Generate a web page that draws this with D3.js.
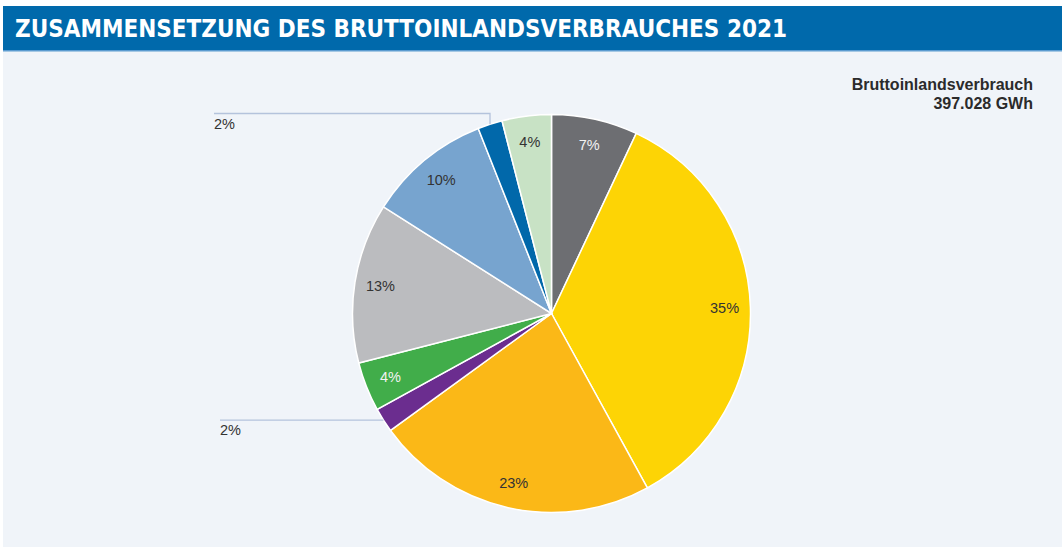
<!DOCTYPE html>
<html>
<head>
<meta charset="utf-8">
<script src="https://cdn.jsdelivr.net/npm/d3@7"></script>
<style>
	body { margin: 0; background: #ffffff; }
	svg { display: block; font-family: "Liberation Sans", Arial, sans-serif; }
</style>
</head>
<body>
<div id="chart"></div>
<script>
// anteile in prozent, im uhrzeigersinn ab 12 uhr
var shares = [7, 35, 23, 2, 4, 13, 10, 2, 4];
var sliceColors = ['#6d6e72', '#fdd405', '#fbb817', '#6b2d8f', '#41ad4a', '#bbbcbf', '#77a4cf', '#0168aa', '#c8e2c5'];
var labelColors = ['#f2f2f2', '#333333', '#333333', '#333333', '#f2f2f2', '#333333', '#333333', '#333333', '#333333'];
var titleText = 'ZUSAMMENSETZUNG DES BRUTTOINLANDSVERBRAUCHES 2021';
var totalLines = ['Bruttoinlandsverbrauch', '397.028 GWh'];

var width = 1064, height = 547;
var cx = 551.5, cy = 313.5, radius = 199;

var svg = d3.select('#chart').append('svg')
	.attr('width', width).attr('height', height);

// titelbalken + hintergrund
svg.append('rect').attr('x', 3).attr('y', 51).attr('width', 1059).attr('height', 496)
	.attr('fill', '#f0f4f9');
svg.append('rect').attr('x', 3).attr('y', 6).attr('width', 1059).attr('height', 45)
	.attr('fill', '#0069ab');
svg.append('rect').attr('x', 3).attr('y', 50).attr('width', 1059).attr('height', 1.5)
	.attr('fill', '#5b9bd0');
svg.append('text')
	.attr('x', 15).attr('y', 37)
	.attr('textLength', 772).attr('lengthAdjust', 'spacingAndGlyphs')
	.style('font-family', '"Liberation Sans Narrow", "DejaVu Sans Condensed", "Liberation Sans", sans-serif')
	.style('font-weight', 'bold').style('font-size', '24px')
	.attr('fill', '#ffffff')
	.text(titleText);

// summe oben rechts
svg.selectAll('.total').data(totalLines).enter().append('text')
	.attr('class', 'total')
	.attr('x', 1033)
	.attr('y', function(d, i) { return 90 + i * 19; })
	.attr('text-anchor', 'end')
	.style('font-size', '16px').style('font-weight', 'bold')
	.attr('fill', '#2b2b2b')
	.text(function(d) { return d; });

var pie = d3.pie().sort(null).value(function(d) { return d; });
var arcs = pie(shares);
var arc = d3.arc().innerRadius(0).outerRadius(radius);
var labelArc = d3.arc().innerRadius(radius * 0.87).outerRadius(radius * 0.87);
var edgeArc = d3.arc().innerRadius(radius).outerRadius(radius);

var g = svg.append('g').attr('transform', 'translate(' + cx + ',' + cy + ')');

g.selectAll('path.slice').data(arcs).enter().append('path')
	.attr('class', 'slice')
	.attr('d', arc)
	.attr('fill', function(d, i) { return sliceColors[i]; })
	.attr('stroke', '#ffffff').attr('stroke-width', 1.5);

// innere beschriftungen
g.selectAll('text.inner').data(arcs.filter(function(d) { return d.data >= 3; })).enter()
	.append('text')
	.attr('class', 'inner')
	.attr('transform', function(d) { return 'translate(' + labelArc.centroid(d) + ')'; })
	.attr('text-anchor', 'middle').attr('dy', '0.35em')
	.style('font-size', '14.5px')
	.attr('fill', function(d) { return labelColors[d.index]; })
	.text(function(d) { return d.data + '%'; });

// kleine segmente mit fuehrungslinien
var small = arcs.filter(function(d) { return d.data < 3; });
small.forEach(function(d) {
	var p = edgeArc.centroid(d);
	var pts, tx, ty;
	if (p[1] < 0) {
		var topY = -radius - 1;
		pts = [[p[0], p[1]], [p[0], topY], [214 - cx, topY]];
		tx = 214 - cx; ty = topY + 15;
	} else {
		pts = [[p[0], p[1]], [220 - cx, p[1]]];
		tx = 220 - cx; ty = p[1] + 15;
	}
	g.append('path')
		.attr('d', d3.line()(pts))
		.attr('fill', 'none').attr('stroke', '#b4c3dc').attr('stroke-width', 1.3);
	g.append('text')
		.attr('x', tx).attr('y', ty)
		.style('font-size', '14.5px').attr('fill', '#333333')
		.text(d.data + '%');
});
</script>
</body>
</html>
